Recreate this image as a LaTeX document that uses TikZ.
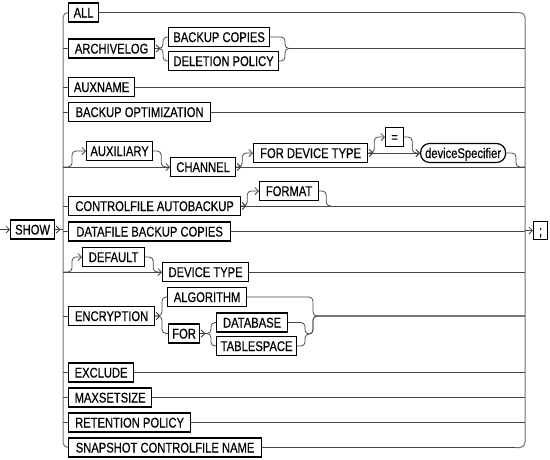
\documentclass[tikz,border=0pt]{standalone}
\usepackage{fontspec}
\setmainfont{Liberation Sans}[FakeStretch=0.8,FakeBold=0.5]
\usetikzlibrary{arrows.meta,calc}
\newcommand\chevat[1]{\draw[chev] (#1.east) ++(1,-3.5) -- ++(3.5,3.5) -- ++(-3.5,3.5);}
\begin{document}
\begin{tikzpicture}[x=1pt,y=-1pt,
  kw/.style={draw=black, line width=1.2pt, rectangle, inner sep=0pt, minimum height=19pt, anchor=west,
    font=\fontsize{14}{16}\selectfont, text height=10pt, text depth=0pt},
  refbox/.style={kw, rounded corners=9pt},
  ln/.style={draw=black!72, line width=0.8pt, rounded corners=4pt},
  bus/.style={draw=black!55, line width=1pt, rounded corners=5pt},
  ar/.style={-{Straight Barb[length=3.5pt,width=7pt]}},
  chev/.style={draw=black!80, line width=0.8pt},
]
\useasboundingbox (0,0) rectangle (550,459);

% ---------- nodes ----------
\node[kw, minimum width=44pt] (show) at (10,229.5) {SHOW};
\node[kw, minimum width=14pt, minimum height=18pt] (semi) at (533,230.5) {;};
\node[kw, minimum width=30pt] (all) at (68,12.5) {ALL};
\node[kw, minimum width=86pt] (arch) at (68,48.5) {ARCHIVELOG};
\node[kw, minimum width=101pt] (bc) at (168,37) {BACKUP COPIES};
\node[kw, minimum width=110pt] (dp) at (168,61) {DELETION POLICY};
\node[kw, minimum width=66pt] (auxn) at (68,87) {AUXNAME};
\node[kw, minimum width=142pt] (bopt) at (68,112) {BACKUP OPTIMIZATION};
\node[kw, minimum width=66pt] (auxl) at (86,151) {AUXILIARY};
\node[kw, minimum width=65pt] (chan) at (170,167) {CHANNEL};
\node[kw, minimum width=114pt] (fdt) at (253,153) {FOR DEVICE TYPE};
\node[kw, minimum width=18pt] (eq) at (385,137) {=};
\node[refbox, minimum width=85pt] (dev) at (420,153) {deviceSpecifier};
\node[kw, minimum width=172pt] (cfa) at (68,206) {CONTROLFILE AUTOBACKUP};
\node[kw, minimum width=59pt] (fmt) at (259,191) {FORMAT};
\node[kw, minimum width=162pt] (dbc) at (68,231.5) {DATAFILE BACKUP COPIES};
\node[kw, minimum width=62pt] (dflt) at (82,257) {DEFAULT};
\node[kw, minimum width=86pt] (dtyp) at (162,272) {DEVICE TYPE};
\node[kw, minimum width=86pt] (enc) at (68,316) {ENCRYPTION};
\node[kw, minimum width=79pt] (alg) at (167,297) {ALGORITHM};
\node[kw, minimum width=31pt] (for) at (168,333.5) {FOR};
\node[kw, minimum width=71pt] (db) at (216,322.5) {DATABASE};
\node[kw, minimum width=80pt] (ts) at (216,346) {TABLESPACE};
\node[kw, minimum width=65pt] (excl) at (68,372.5) {EXCLUDE};
\node[kw, minimum width=83pt] (maxs) at (68,397.5) {MAXSETSIZE};
\node[kw, minimum width=122pt] (ret) at (68,422.5) {RETENTION POLICY};
\node[kw, minimum width=193pt] (snap) at (68,447.5) {SNAPSHOT CONTROLFILE NAME};

% ---------- coordinates ----------
\coordinate (lT) at (63,12.5);
\coordinate (lB) at (63,447.5);
\coordinate (rT) at (525,12.5);
\coordinate (rB) at (525,447.5);
\coordinate (rT2) at (515,12.5);
\coordinate (rB2) at (515,447.5);
\coordinate (in) at (0,229.5);

% ---------- buses ----------
\draw[bus] (all.west) -- (lT) -- (lB) -- (snap.west);
\draw[bus] (rT2) -- (rT) -- (rB) -- (rB2);
\draw[ln] (all.east) -- (rT2);
\draw[ln] (snap.east) -- (rB2);

% ---------- SHOW and ; ----------
\draw[ln,ar] (in) -- (show.west);
\chevat{show}
\draw[ln] (show.east) -- (show.east -| lT);
\draw[ln,ar] (semi.west -| rT) -- (semi.west);

% ---------- ARCHIVELOG ----------
\draw[ln] (arch.west -| lT) -- (arch.west);
\chevat{arch}
\coordinate (aF) at (163,48.5);
\coordinate (aJ) at (285,48.5);
\draw[ln] (arch.east) -- (aF) |- (bc.west);
\draw[ln] (arch.east) -- (aF) |- (dp.west);
\draw[ln] (bc.east) -| (aJ) -- (aJ -| rT);
\draw[ln] (dp.east) -| (aJ) -- (aJ -| rT);

% ---------- simple rows ----------
\foreach \n in {auxn,bopt,dbc,excl,maxs,ret}{
  \draw[ln] (\n.west -| lT) -- (\n.west);
  \draw[ln] (\n.east) -- (\n.east -| rT);
}

% ---------- AUXILIARY / CHANNEL ----------
\coordinate (cL) at (63,167);
\draw[ln] (cL) -- (chan.west);
\draw[ln,ar] (cL) -- ++(9,0) |- (auxl.west);
\draw[ln,ar] (auxl.east) -- ++(8,0) |- (chan.west);
\chevat{chan}
\draw[ln] (chan.east) -- (chan.east -| rT);
\draw[ln,ar] (chan.east) -- ++(6,0) |- (fdt.west);
\chevat{fdt}
\draw[ln,ar] (fdt.east) -- (dev.west);
\draw[ln,ar] (fdt.east) -- ++(6,0) |- (eq.west);
\draw[ln,ar] (eq.east) -- ++(8,0) |- (dev.west);
\coordinate (dJ) at (516,167);
\draw[ln] (dev.east) -| (dJ) -- (chan.east -| rT);

% ---------- CONTROLFILE AUTOBACKUP ----------
\draw[ln] (cfa.west -| lT) -- (cfa.west);
\chevat{cfa}
\draw[ln] (cfa.east) -- (cfa.east -| rT);
\draw[ln,ar] (cfa.east) -- ++(6,0) |- (fmt.west);
\coordinate (fJ) at (331,206);
\draw[ln] (fmt.east) -- ++(7,0) |- (fJ);

% ---------- DEFAULT / DEVICE TYPE ----------
\coordinate (dL) at (63,272);
\draw[ln] (dL) -- (dtyp.west);
\draw[ln,ar] (dL) -- ++(9,0) |- (dflt.west);
\draw[ln,ar] (dflt.east) -- ++(8,0) |- (dtyp.west);
\draw[ln] (dtyp.east) -- (dtyp.east -| rT);

% ---------- ENCRYPTION ----------
\draw[ln] (enc.west -| lT) -- (enc.west);
\chevat{enc}
\coordinate (eF) at (162,316);
\draw[ln] (enc.east) -- (eF) |- (alg.west);
\draw[ln] (enc.east) -- (eF) |- (for.west);
\chevat{for}
\coordinate (fF) at (211,333.5);
\draw[ln] (for.east) -- (fF) |- (db.west);
\draw[ln] (for.east) -- (fF) |- (ts.west);
\coordinate (jDB) at (305,334);
\coordinate (jDB2) at (313,334);
\coordinate (jE) at (313,316);
\draw[ln] (db.east) -| (jDB) -- (jDB2) -- (jE) -- (jE -| rT);
\draw[ln] (ts.east) -| (jDB) -- (jDB2) -- (jE) -- (jE -| rT);
\draw[ln] (alg.east) -| (jE) -- (jE -| rT);
\end{tikzpicture}
\end{document}
